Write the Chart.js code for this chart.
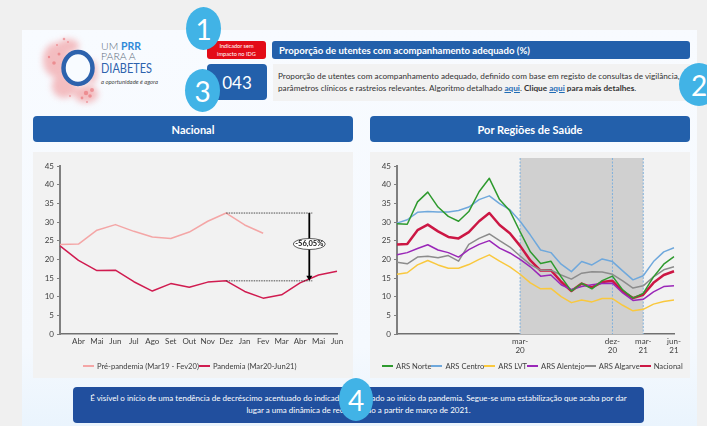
<!DOCTYPE html>
<html lang="pt">
<head>
<meta charset="utf-8">
<title>Proporção de utentes com acompanhamento adequado</title>
<script src="https://cdn.jsdelivr.net/npm/chart.js@4"></script>
<style>
  html, body { margin: 0; padding: 0; }
  body { width: 707px; height: 426px; overflow: hidden; position: relative; background: #f0f0f0; font-family: Lato, "Open Sans", sans-serif; color: #333; }
  .abs { position: absolute; box-sizing: border-box; }
  .sheet { left: 22px; top: 30px; width: 675px; height: 396px; background: linear-gradient(#f8fbff, #f5f9fe 80%, #eaf4fd); }
  .blue { background: #2360ab; color: #fff; border-radius: 3px; font-weight: 700; display: flex; align-items: center; justify-content: center; }
  .panel { background: #f2f2f2; }
  .bubble { background: #41b3e6; color: #fff; border-radius: 50%; display: flex; align-items: center; justify-content: center; font-size: 28px; z-index: 5; }
  .legenda { display: flex; justify-content: space-between; font-size: 7.6px; line-height: 10px; color: #404040; white-space: nowrap; }
  .legenda span { display: flex; align-items: center; }
  .legenda i { display: block; width: 11px; height: 2px; margin-right: 3px; }
  a { color: #1f6cb5; font-weight: 700; }
</style>
</head>
<body>
<div class="abs sheet"></div>

<svg class="abs" style="left:30px;top:30px" width="150" height="80" viewBox="0 0 150 80">
  <defs>
    <filter id="soft"><feGaussianBlur stdDeviation="3"/></filter>
  </defs>
  <g fill="#f2a3a6" filter="url(#soft)" opacity="0.7">
    <ellipse cx="26" cy="30" rx="13" ry="17"/>
    <ellipse cx="38" cy="16" rx="11" ry="7"/>
    <ellipse cx="34" cy="56" rx="12" ry="12"/>
    <ellipse cx="56" cy="64" rx="12" ry="9"/>
    <ellipse cx="62" cy="42" rx="5" ry="12"/>
  </g>
  <g fill="#e8666c" opacity="0.55">
    <circle cx="34" cy="9" r="1.3"/><circle cx="27" cy="15" r="1"/><circle cx="19" cy="27" r="1.2"/>
    <circle cx="24" cy="33" r="1.8"/><circle cx="29" cy="24" r="1.5"/><circle cx="38" cy="12" r="0.9"/>
    <circle cx="56" cy="63" r="2.2"/><circle cx="60" cy="66" r="1.8"/><circle cx="62" cy="60" r="2"/>
    <circle cx="52" cy="68" r="1.4"/><circle cx="57" cy="72" r="1"/><circle cx="40" cy="66" r="0.9"/>
  </g>
  <ellipse cx="48" cy="38" rx="14.5" ry="16" fill="#f8fbff" stroke="#2d62ad" stroke-width="4.5"/>
  <text x="71" y="20" font-size="10.5" font-weight="300" fill="#5d6b7d">UM <tspan font-weight="700" fill="#2f8ad8">PRR</tspan></text>
  <text x="71" y="30" font-size="10.5" font-weight="300" fill="#5d6b7d">PARA A</text>
  <text x="71" y="43" font-size="13" fill="#2d62ad" textLength="51" lengthAdjust="spacingAndGlyphs">DIABETES</text>
  <text x="71" y="54" font-size="6" font-style="italic" fill="#444" textLength="57" lengthAdjust="spacingAndGlyphs">a oportunidade é agora</text>
</svg>

<div class="abs" style="left:207px;top:41px;width:59px;height:18px;background:#e30b17;color:#fff;border-radius:3px;font-size:5.6px;line-height:8px;text-align:center;padding-top:1px">Indicador sem<br>impacto no IDG</div>
<div class="abs blue" style="left:272px;top:41px;width:418px;height:18px;justify-content:flex-start;padding-left:7px;font-size:9.6px">Proporção de utentes com acompanhamento adequado (%)</div>
<div class="abs blue" style="left:207px;top:64px;width:60px;height:36px;font-size:17px;font-weight:400;border-radius:4px">043</div>
<div class="abs panel" style="left:273px;top:64px;width:417px;height:37px;font-size:8.2px;line-height:11.5px;padding:7px 0 0 5px;white-space:nowrap">Proporção de utentes com acompanhamento adequado, definido com base em registo de consultas de vigilância,<br>parâmetros clínicos e rastreios relevantes. Algoritmo detalhado <a href="#">aqui</a>. <b>Clique</b> <a href="#">aqui</a> <b>para mais detalhes</b>.</div>

<div class="abs blue" style="left:33px;top:116px;width:320px;height:26px;font-size:11px;border-radius:4px">Nacional</div>
<div class="abs blue" style="left:370px;top:116px;width:320px;height:26px;font-size:11px;border-radius:4px">Por Regiões de Saúde</div>

<div class="abs panel" style="left:33px;top:152px;width:320px;height:226px"><canvas id="nacional" width="320" height="226"></canvas></div>
<div class="abs panel" style="left:370px;top:152px;width:320px;height:226px"><canvas id="regioes" width="320" height="226"></canvas></div>
<div class="abs legenda" id="legendaNacional" style="left:83px;top:361px;width:200px"></div>
<div class="abs legenda" id="legendaRegioes" style="left:382px;top:361px;width:298px"></div>

<div class="abs" style="left:73px;top:387px;width:571px;height:36px;background:#214f9e;color:#fff;border-radius:4px;font-size:8px;line-height:11.5px;text-align:center;padding-top:6px;white-space:nowrap">É visível o início de uma tendência de decréscimo acentuado do indicador, associado ao início da pandemia. Segue-se uma estabilização que acaba por dar<br>lugar a uma dinâmica de recuperação a partir de março de 2021.</div>

<div class="abs bubble" style="left:186px;top:7px;width:35px;height:43px">1</div>
<div class="abs bubble" style="left:679px;top:63px;width:40px;height:43px">2</div>
<div class="abs bubble" style="left:185px;top:69px;width:35px;height:43px">3</div>
<div class="abs bubble" style="left:339px;top:378px;width:34px;height:43px">4</div>

<script>
// national chart
const monthTicks = ['', 'Abr', 'Mai', 'Jun', 'Jul', 'Ago', 'Set', 'Out', 'Nov', 'Dez', 'Jan', 'Fev', 'Mar', 'Abr', 'Mai', 'Jun'];
const prePandemia = [24, 24.1, 27.8, 29.3, 27.5, 26, 25.6, 27.3, 30.2, 32.4, 29.2, 27];
const pandemia = [23.6, 19.7, 17, 17.1, 14, 11.5, 13.5, 12.5, 13.9, 14.24, 11.4, 9.6, 10.5, 13.7, 15.8, 16.8];
const quedaTexto = '-56,05%';

// regional chart
const regiaoTicks = ['', '', '', '', '', '', '', '', '', '', '', '', ['mar-', '20'], '', '', '', '', '', '', '', '', ['dez-', '20'], '', '', ['mar-', '21'], '', '', ['jun-', '21']];
const arsNorte = [29.5, 29.4, 35.4, 38, 34, 31.5, 30.2, 32.8, 38.1, 41.7, 36, 33, 27.4, 22, 18.9, 19.5, 15.3, 11.5, 13.6, 12.1, 14.3, 15.5, 11.8, 9.6, 10.9, 15.3, 18.7, 20.7];
const arsCentro = [29.7, 30.6, 32.6, 32.8, 32.7, 32.7, 33.1, 34, 36, 37, 34.9, 33.3, 30.2, 26.5, 22.5, 21.8, 18.7, 16.7, 19.4, 18.5, 20.1, 19.4, 16.9, 14.5, 15.6, 19.4, 22, 23.1];
const arsLvt = [16, 16.4, 18.5, 19.7, 18.5, 17.6, 17.6, 18.6, 20, 21.2, 19.5, 18, 16, 13.7, 12.1, 12.2, 10, 8.4, 9.1, 8.6, 9.5, 9.5, 7.7, 6.2, 6.6, 8, 8.7, 9.1];
const arsAlentejo = [21.2, 21.8, 22.9, 23.9, 22.5, 21.8, 20.6, 22.6, 24, 25, 23, 21.7, 20, 18, 15.5, 15.8, 13.2, 11.9, 12.7, 13.2, 13.5, 13.6, 11, 9, 9.3, 11.3, 12.7, 12.9];
const arsAlgarve = [19.2, 18.8, 20.6, 20.8, 20.4, 21, 19.5, 24, 25.6, 26.8, 25, 23.3, 20.9, 18.6, 17.1, 17.1, 15.8, 14.7, 16.3, 16.7, 16.6, 16, 14.2, 12.3, 12.9, 15.3, 17.2, 18];
const nacional = prePandemia.concat(pandemia);

// indices of the dashed markers on the regional x axis
const marcoInicio = 12, marcoMeio = 21, marcoFim = 24;

const fontFamily = 'Lato, "Open Sans", sans-serif';
Chart.defaults.font.family = fontFamily;
Chart.defaults.font.size = 8;
Chart.defaults.color = '#404040';
Chart.defaults.animation = false;

function linha(label, data, color, width) {
  return {
    label: label,
    data: data,
    borderColor: color,
    backgroundColor: color,
    borderWidth: width,
    pointRadius: 0,
    tension: 0,
    borderJoinStyle: 'round'
  };
}

function opcoes() {
  return {
    responsive: false,
    layout: { padding: { top: 14, right: 16, bottom: 22, left: 0 } },
    plugins: {
      tooltip: { enabled: false },
      legend: { display: false }
    },
    scales: {
      x: {
        offset: false,
        afterFit: function (scale) { scale.height = 22; },
        border: { color: '#707070', width: 1.5 },
        grid: { drawOnChartArea: false, drawTicks: false },
        ticks: { autoSkip: false, maxRotation: 0, padding: 3, font: { size: 8, lineHeight: 1.1 }, color: '#404040' }
      },
      y: {
        min: 0,
        max: 45,
        afterFit: function (scale) { scale.width = 27; },
        border: { color: '#808080', width: 2 },
        grid: { drawOnChartArea: false, tickLength: 3, tickColor: '#808080' },
        ticks: { stepSize: 5, padding: 3, color: '#404040' }
      }
    }
  };
}

// legend row under a chart, one entry per dataset
function legenda(id, chart) {
  const box = document.getElementById(id);
  chart.data.datasets.forEach(function (ds) {
    const item = document.createElement('span');
    const mark = document.createElement('i');
    mark.style.background = ds.borderColor;
    item.appendChild(mark);
    item.appendChild(document.createTextNode(ds.label));
    box.appendChild(item);
  });
}

// dotted guides, arrow and percentage badge between the two December values
const quedaPlugin = {
  id: 'queda',
  afterDatasetsDraw: function (chart) {
    const ctx = chart.ctx, x = chart.scales.x, y = chart.scales.y;
    const x0 = x.getPixelForValue(9), xa = x.getPixelForValue(13.5);
    const yTop = y.getPixelForValue(prePandemia[9]), yBot = y.getPixelForValue(pandemia[9]);
    ctx.save();
    ctx.strokeStyle = '#222';
    ctx.lineWidth = 0.8;
    ctx.setLineDash([1.5, 1]);
    [yTop, yBot].forEach(function (py) {
      ctx.beginPath();
      ctx.moveTo(x0, py);
      ctx.lineTo(xa + 3, py);
      ctx.stroke();
    });
    ctx.setLineDash([]);
    ctx.lineWidth = 1.8;
    ctx.strokeStyle = '#000';
    ctx.beginPath();
    ctx.moveTo(xa, yTop);
    ctx.lineTo(xa, yBot - 4);
    ctx.stroke();
    ctx.fillStyle = '#000';
    ctx.beginPath();
    ctx.moveTo(xa - 3, yBot - 5);
    ctx.lineTo(xa + 3, yBot - 5);
    ctx.lineTo(xa, yBot);
    ctx.closePath();
    ctx.fill();
    const ym = y.getPixelForValue(24.1);
    ctx.fillStyle = '#fff';
    ctx.strokeStyle = '#333';
    ctx.lineWidth = 0.8;
    ctx.beginPath();
    ctx.ellipse(xa, ym, 16, 5.5, 0, 0, Math.PI * 2);
    ctx.fill();
    ctx.stroke();
    ctx.fillStyle = '#111';
    ctx.font = '700 7.5px ' + fontFamily;
    ctx.textAlign = 'center';
    ctx.textBaseline = 'middle';
    ctx.fillText(quedaTexto, xa, ym);
    ctx.restore();
  }
};

// grey band and dashed verticals for the pandemic period
const periodoPlugin = {
  id: 'periodo',
  beforeDatasetsDraw: function (chart) {
    const ctx = chart.ctx, x = chart.scales.x, area = chart.chartArea;
    const top = area.top - 8;
    ctx.save();
    ctx.fillStyle = '#d0d0d0';
    ctx.fillRect(x.getPixelForValue(marcoInicio), top, x.getPixelForValue(marcoFim) - x.getPixelForValue(marcoInicio), area.bottom - top);
    ctx.strokeStyle = '#7fb0dc';
    ctx.lineWidth = 1;
    ctx.setLineDash([2, 1.5]);
    [marcoInicio, marcoMeio, marcoFim].forEach(function (i) {
      const px = x.getPixelForValue(i);
      ctx.beginPath();
      ctx.moveTo(px, top);
      ctx.lineTo(px, area.bottom);
      ctx.stroke();
    });
    ctx.restore();
  }
};

const chartNacional = new Chart(document.getElementById('nacional'), {
  type: 'line',
  data: {
    labels: monthTicks,
    datasets: [
      linha('Pré-pandemia (Mar19 - Fev20)', prePandemia, '#f4a6a6', 1.5),
      linha('Pandemia (Mar20-Jun21)', pandemia, '#d01c50', 1.5)
    ]
  },
  options: opcoes(),
  plugins: [quedaPlugin]
});

const chartRegioes = new Chart(document.getElementById('regioes'), {
  type: 'line',
  data: {
    labels: regiaoTicks,
    datasets: [
      linha('ARS Norte', arsNorte, '#2e9a2e', 1.5),
      linha('ARS Centro', arsCentro, '#6fa8dc', 1.5),
      linha('ARS LVT', arsLvt, '#f9c83e', 1.5),
      linha('ARS Alentejo', arsAlentejo, '#9a27b8', 1.5),
      linha('ARS Algarve', arsAlgarve, '#8c8c8c', 1.5),
      linha('Nacional', nacional, '#cc1744', 2.5)
    ]
  },
  options: opcoes(),
  plugins: [periodoPlugin]
});

legenda('legendaNacional', chartNacional);
legenda('legendaRegioes', chartRegioes);
</script>
</body>
</html>
